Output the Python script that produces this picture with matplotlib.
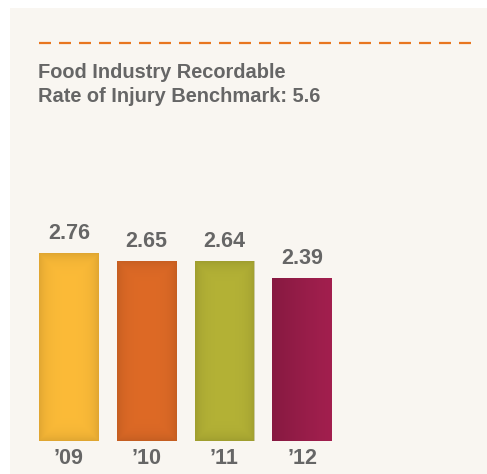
import numpy as np
import matplotlib
matplotlib.use("Agg")
import matplotlib.pyplot as plt
from matplotlib.colors import to_rgb
from matplotlib.lines import Line2D
from matplotlib.patches import Rectangle

years = ["\u201909", "\u201910", "\u201911", "\u201912"]
rates = [2.76, 2.65, 2.64, 2.39]
colors = ["#fcbb38", "#de6a26", "#b4b236", "#a21f4e"]
title_lines = ["Food Industry Recordable", "Rate of Injury Benchmark: 5.6"]

BG = "#f9f6f1"
TXT = "#666666"
ORANGE = "#e8761f"
W, H = 487, 474

plt.rcParams["font.family"] = ["Liberation Sans", "DejaVu Sans"]

fig = plt.figure(figsize=(W / 100, H / 100), dpi=100, facecolor="white")
fig.add_artist(Rectangle((10 / W, 0), 1, 1 - 8 / H, transform=fig.transFigure,
                         facecolor=BG, edgecolor="none", zorder=0))

# dashed benchmark rule + heading
fig.add_artist(Line2D([39 / W, 471 / W], [1 - 43 / H, 1 - 43 / H], transform=fig.transFigure,
                      color=ORANGE, lw=1.6, linestyle=(0, (8.64 / 1.6, 5.76 / 1.6))))
for i, line in enumerate(title_lines):
    fig.text(38 / W, 1 - (72 + 24 * i) / H, line, ha="left", va="center",
             fontsize=14.4, fontweight="bold", color=TXT)

px_unit = 68
ax = fig.add_axes([30.1 / W, (H - 440.7) / H, 311 / W, 4 * px_unit / H])
ax.set_facecolor("none")
x = np.arange(len(years))
bars = ax.bar(x, rates, width=0.77, color=colors, edgecolor="none", zorder=2)

# soft edge shading on each bar
for i, (p, c) in enumerate(zip(bars, colors)):
    wpx, hpx = 60, p.get_height() * px_unit
    u = np.linspace(0, 1, 120)[None, :]
    v = np.linspace(0, 1, 240)[:, None]
    dark = np.array(to_rgb(c)) * 0.72
    if i == 3:
        a = 0.6 * (1 - u) ** 1.2 + 0 * v
    else:
        fx = np.exp(-np.minimum(u, 1 - u) * wpx / 7)
        fy = np.exp(-np.minimum(v, 1 - v) * hpx / 7)
        a = 0.4 * np.maximum(fx, fy)
    arr = np.zeros(a.shape + (4,))
    arr[..., :3] = dark
    arr[..., 3] = a
    im = ax.imshow(arr, extent=[p.get_x(), p.get_x() + p.get_width(), 0, p.get_height()],
                   aspect="auto", zorder=3, interpolation="bilinear")
    im.set_clip_path(p)
    ax.annotate(f"{rates[i]:.2f}", (p.get_x() + p.get_width() / 2, p.get_height()),
                xytext=(0, 14), textcoords="offset points", ha="center", va="center",
                fontsize=15.5, fontweight="bold", color=TXT)

ax.set_xlim(-0.5, 3.5)
ax.set_ylim(0, 4)
ax.set_xticks(x)
ax.set_xticklabels(years, fontsize=15.5, fontweight="bold", color=TXT)
ax.tick_params(axis="x", length=0, pad=5)
ax.set_yticks([])
for s in ax.spines.values():
    s.set_visible(False)

fig.savefig("out.png", dpi=100, facecolor="white")
